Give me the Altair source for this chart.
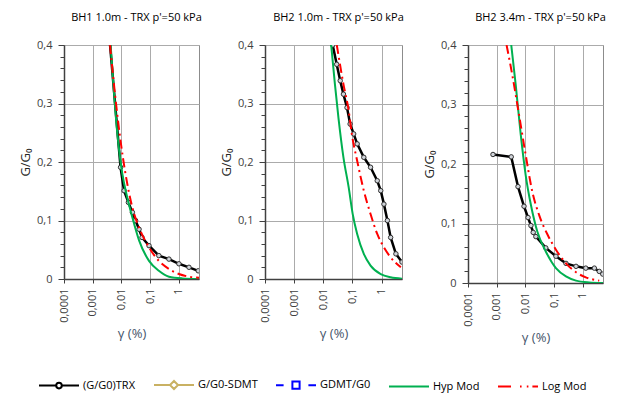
import altair as alt
import pandas as pd

FONT = "Open Sans"

# ---------------- data ----------------
series_names = ["(G/G0)TRX", "G/G0-SDMT", "GDMT/G0", "Hyp Mod", "Log Mod"]
series_colors = ["#000000", "#c9b163", "#0000ff", "#00b050", "#ff0000"]

panel_titles = ["BH1 1.0m - TRX p'=50 kPa", "BH2 1.0m - TRX p'=50 kPa", "BH2 3.4m - TRX p'=50 kPa"]

x_tick_values = [0.0001, 0.001, 0.01, 0.1, 1]
y_tick_values = [0.0, 0.02, 0.04, 0.06, 0.08, 0.1, 0.12, 0.14, 0.16, 0.18, 0.2,
                 0.22, 0.24, 0.26, 0.28, 0.3, 0.32, 0.34, 0.36, 0.38, 0.4]

# Panel 1 : BH1 1.0m
p1_trx_gamma = [0.0037, 0.0093, 0.0123, 0.0174, 0.024, 0.031, 0.041, 0.052, 0.091, 0.20, 0.45, 1.0, 2.24, 4.7]
p1_trx_ratio = [0.42, 0.191, 0.151, 0.131, 0.114, 0.100, 0.085, 0.071, 0.057, 0.040, 0.034, 0.026, 0.020, 0.014]
p1_hyp_gamma = [0.0042, 0.0072, 0.0107, 0.0158, 0.024, 0.041, 0.091, 0.20, 0.45, 1.32, 5.0]
p1_hyp_ratio = [0.40, 0.248, 0.180, 0.140, 0.105, 0.066, 0.031, 0.014, 0.004, 0.001, 0.0]
p1_log_gamma = [0.004, 0.0063, 0.0093, 0.0138, 0.024, 0.041, 0.091, 0.20, 0.45, 1.0, 2.24, 5.0]
p1_log_ratio = [0.40, 0.305, 0.236, 0.180, 0.122, 0.088, 0.054, 0.031, 0.017, 0.0085, 0.004, 0.002]

# Panel 2 : BH2 1.0m
p2_trx_gamma = [0.021, 0.0288, 0.038, 0.049, 0.065, 0.083, 0.110, 0.145, 0.245, 0.417, 0.708, 0.933, 1.20, 1.58, 2.04, 3.09, 5.0]
p2_trx_ratio = [0.40, 0.367, 0.339, 0.316, 0.293, 0.265, 0.248, 0.231, 0.208, 0.191, 0.168, 0.151, 0.128, 0.100, 0.071, 0.043, 0.029]
p2_hyp_gamma = [0.0186, 0.025, 0.033, 0.049, 0.074, 0.102, 0.145, 0.245, 0.417, 0.933, 2.04, 5.0]
p2_hyp_ratio = [0.40, 0.333, 0.276, 0.208, 0.157, 0.111, 0.077, 0.043, 0.023, 0.0085, 0.003, 0.0006]
p2_log_gamma = [0.029, 0.049, 0.074, 0.095, 0.145, 0.245, 0.417, 0.708, 1.20, 2.04, 4.57]
p2_log_ratio = [0.40, 0.333, 0.288, 0.248, 0.202, 0.151, 0.111, 0.077, 0.054, 0.037, 0.020]

# Panel 3 : BH2 3.4m
p3_trx_gamma = [0.00074, 0.0032, 0.0055, 0.0089, 0.0123, 0.0155, 0.0186, 0.023, 0.051, 0.115, 0.257, 0.575, 1.26, 2.5, 3.7, 4.9]
p3_trx_ratio = [0.216, 0.212, 0.162, 0.129, 0.110, 0.0965, 0.085, 0.078, 0.059, 0.045, 0.033, 0.028, 0.025, 0.025, 0.0195, 0.015]
p3_hyp_gamma = [0.0032, 0.0046, 0.0069, 0.0102, 0.0155, 0.026, 0.051, 0.115, 0.257, 0.575, 1.66, 5.0]
p3_hyp_ratio = [0.40, 0.332, 0.248, 0.181, 0.131, 0.086, 0.053, 0.025, 0.011, 0.004, 0.001, 0.0]
p3_log_gamma = [0.0022, 0.0035, 0.006, 0.0102, 0.0174, 0.030, 0.059, 0.115, 0.257, 0.575, 1.26, 3.7]
p3_log_ratio = [0.40, 0.349, 0.282, 0.215, 0.153, 0.114, 0.081, 0.056, 0.033, 0.018, 0.0095, 0.004]

# ---------------- styling ----------------
legend_paths = [
    "M-1,0H-0.16M0.16,0H1M0.14,0A0.14,0.14 0 1,1 -0.14,0A0.14,0.14 0 1,1 0.14,0",
    "M-1,0H-0.2M0.2,0H1M0,-0.2L0.2,0L0,0.2L-0.2,0Z",
    "M-1,0H-0.62M-0.18,-0.18H0.18V0.18H-0.18ZM0.62,0H1",
    "M-1,0H1",
    "M-1,0H-0.35M0.1,0H0.18M0.44,0H0.52M0.72,0H1",
]

MAJOR = "abs(datum.value*10 - round(datum.value*10)) < 0.001"

x_axis = alt.Axis(
    values=x_tick_values,
    labelExpr="replace(format(datum.value, '~g'), '.', ',')",
    labelAngle=270, labelAlign="right", labelBaseline="middle",
    title="γ (%)", titleFontSize=13, titleFontWeight="normal", titleColor="#44546a",
    titlePadding=5, labelPadding=5, tickSize=4, grid=True,
)
y_axis = alt.Axis(
    values=y_tick_values,
    labelExpr=MAJOR + " ? (datum.value == 0 ? '0' : replace(format(datum.value, '.1f'), '.', ',')) : ''",
    title="G/G₀", titleFontSize=13, titleFontWeight="normal", titleColor="#262626",
    titlePadding=4, labelPadding=6,
    tickSize={"condition": {"test": MAJOR, "value": 6}, "value": 4},
    gridOpacity={"condition": {"test": MAJOR, "value": 1}, "value": 0},
    grid=True,
)


def panel(idx, trx_g, trx_r, hyp_g, hyp_r, log_g, log_r, width, height, with_legend):
    x = alt.X("gamma:Q", scale=alt.Scale(type="log", domain=[0.0001, 5], nice=False), axis=x_axis)
    y = alt.Y("ratio:Q", scale=alt.Scale(domain=[0, 0.4], nice=False, zero=False), axis=y_axis)

    trx = pd.DataFrame({"gamma": trx_g, "ratio": trx_r})
    hyp = pd.DataFrame({"gamma": hyp_g, "ratio": hyp_r})
    lg = pd.DataFrame({"gamma": log_g, "ratio": log_r})

    trx_line = alt.Chart(trx).mark_line(color="#000000", strokeWidth=2.5, clip=True).encode(x=x, y=y)
    trx_pts = alt.Chart(trx).mark_point(shape="circle", size=20, filled=True, fill="#d0d4da",
                                         stroke="#303030", strokeWidth=1, opacity=1, clip=True).encode(x=x, y=y)
    hyp_line = alt.Chart(hyp).mark_line(color="#00b050", strokeWidth=2, interpolate="monotone", clip=True).encode(x=x, y=y)
    log_line = alt.Chart(lg).mark_line(color="#ff0000", strokeWidth=2, strokeDash=[9, 4, 2, 4],
                                       interpolate="monotone", clip=True).encode(x=x, y=y)
    layers = [trx_line, trx_pts, hyp_line, log_line]
    if with_legend:
        leg = alt.Legend(
            title=None, orient="none", legendX=-26, legendY=319, direction="horizontal",
            symbolSize=1600, symbolStrokeWidth=2, symbolOpacity=1,
            labelFont=FONT, labelFontSize=11, labelColor="#000000", labelOffset=3,
            columnPadding=14, padding=0,
        )
        empty = pd.DataFrame({"gamma": pd.Series([], dtype=float), "ratio": pd.Series([], dtype=float),
                              "series": pd.Series([], dtype=str)})
        legend_layer = alt.Chart(empty).mark_point(filled=False, opacity=1, strokeWidth=2).encode(
            x=x, y=y,
            color=alt.Color("series:N", scale=alt.Scale(domain=series_names, range=series_colors), legend=leg),
            shape=alt.Shape("series:N", scale=alt.Scale(domain=series_names, range=legend_paths), legend=leg),
        )
        layers.append(legend_layer)
    return alt.layer(*layers).properties(
        width=width, height=height,
        title=alt.TitleParams(panel_titles[idx], fontSize=11, fontWeight="normal", font=FONT,
                              color="#000000", offset=16, dx=5, anchor="middle"),
    )


p1 = panel(0, p1_trx_gamma, p1_trx_ratio, p1_hyp_gamma, p1_hyp_ratio, p1_log_gamma, p1_log_ratio, 135, 234, True)
p2 = panel(1, p2_trx_gamma, p2_trx_ratio, p2_hyp_gamma, p2_hyp_ratio, p2_log_gamma, p2_log_ratio, 137, 234, False)
p3 = panel(2, p3_trx_gamma, p3_trx_ratio, p3_hyp_gamma, p3_hyp_ratio, p3_log_gamma, p3_log_ratio, 135, 238, False)

chart = alt.hconcat(p1, p2, p3, spacing=66, bounds="flush").properties(
    padding={"left": 19, "top": 11, "right": 5, "bottom": 0},
    background="white",
).configure_view(
    stroke="#8c8c8c", strokeWidth=1,
).configure_axis(
    labelFont=FONT, titleFont=FONT, labelFontSize=11, labelColor="#404040",
    domainColor="#404040", domainWidth=1.5, tickColor="#404040", tickWidth=1,
    gridColor="#ababab", gridWidth=1,
)

chart.save("out.html", embed_options={"renderer": "svg", "actions": False})
